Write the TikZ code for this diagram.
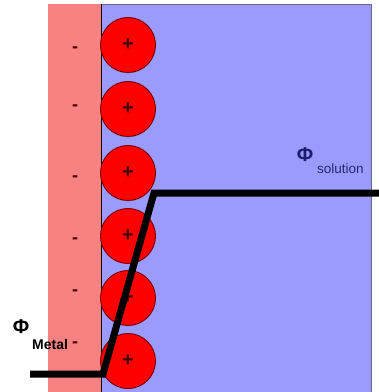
\documentclass[tikz,border=0pt]{standalone}
\usepackage{fontspec}
\setmainfont{Liberation Sans}
\begin{document}
\begin{tikzpicture}[x=1pt,y=-1pt,
  ion/.style={circle,draw=red!50!black,line width=1pt,fill=red,minimum size=55pt,inner sep=0pt,font=\fontsize{20}{20}\selectfont\bfseries,text=red!25!black},
  minus/.style={font=\fontsize{18}{18}\selectfont\bfseries,text=red!25!black,inner sep=0pt},
  pot/.style={line width=7pt,black}]
\useasboundingbox (0,0) rectangle (379,392);
\fill[fill={rgb,255:red,248;green,130;blue,130}] (48,4) rectangle (101,392);
\fill[fill={rgb,255:red,155;green,155;blue,255}] (101,4) rectangle (371,392);
\draw[gray!80!blue,line width=1pt] (101,4) -- (371,4) -- (371,392);
\draw[black,line width=0.8pt] (101,4) -- (101,392);
\foreach \i/\y in {1/45,2/109,3/173,4/236,5/298,6/361}{
  \node[ion] (c\i) at (128,\y) {+};
}
\foreach \i/\y in {1/50,2/108,3/179,4/241,5/293}{
  \node[minus] (m\i) at (75,\y) {-};
}
\coordinate (a) at (30,374);
\coordinate (b) at (103,374);
\coordinate (c) at (154,193);
\coordinate (d) at (379,193);
\draw[pot,line join=miter] (a) -- (b) -- (c) -- (d);
\node[inner sep=0pt,text={rgb,255:red,30;green,30;blue,110},font=\fontsize{20}{20}\selectfont\bfseries] (ps) at (305,155) {Φ};
\node[inner sep=0pt,anchor=west,text={rgb,255:red,40;green,40;blue,110},font=\fontsize{13.5}{13.5}\selectfont] (pst) at (317,169) {solution};
\node[inner sep=0pt,font=\fontsize{20}{20}\selectfont\bfseries] (pm) at (21,327) {Φ};
\node[inner sep=0pt,anchor=west,font=\fontsize{14}{14}\selectfont\bfseries] (pmt) at (32,344) {Metal};
\node[minus] (m6) at (75,345) {-};
\end{tikzpicture}
\end{document}
